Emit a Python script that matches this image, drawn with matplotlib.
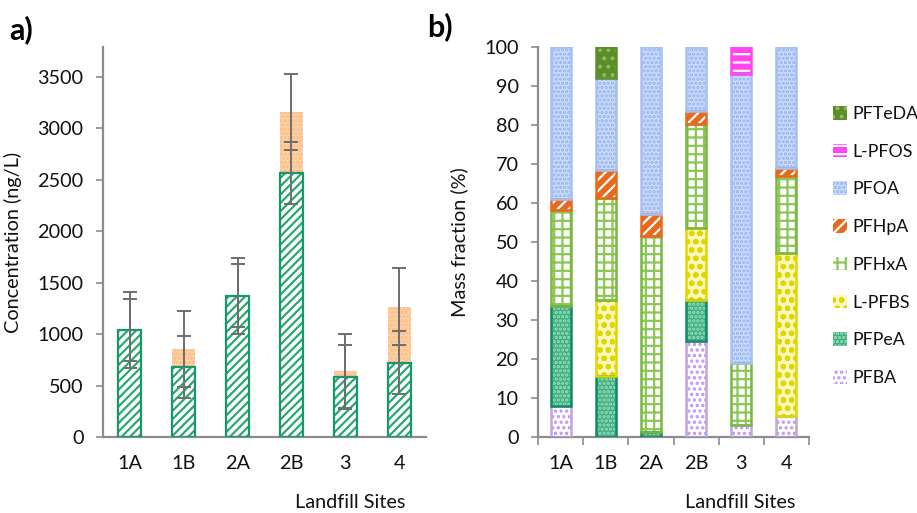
import matplotlib
matplotlib.use("Agg")
import matplotlib.pyplot as plt
from matplotlib.patches import Patch
import numpy as np

plt.rcParams['font.family'] = ['Lato', 'DejaVu Sans']
plt.rcParams['hatch.linewidth'] = 1.6

# ---------------- data ----------------
sites = ["1A", "1B", "2A", "2B", "3", "4"]

# panel a: concentration (ng/L)
conc_green = [1040, 680, 1374, 2566, 583, 723]
conc_orange = [0, 172, 0, 593, 55, 544]
err_green = [305, 305, 308, 305, 313, 307]
err_total = [370, 370, 370, 372, 360, 372]

# panel b: mass fraction (%)
compounds = ["PFBA", "PFPeA", "L-PFBS", "PFHxA", "PFHpA", "PFOA", "L-PFOS", "PFTeDA"]
PFBA = [7.9, 0.0, 0.0, 24.7, 3.2, 5.5]
PFPeA = [25.6, 15.6, 1.3, 10.5, 0.0, 0.0]
L_PFBS = [0.0, 19.6, 0.0, 18.4, 0.0, 41.7]
PFHxA = [24.8, 26.2, 50.3, 26.7, 15.9, 19.7]
PFHpA = [2.7, 7.0, 5.7, 3.2, 0.0, 2.2]
PFOA = [39.0, 23.7, 42.7, 16.5, 73.9, 30.9]
L_PFOS = [0.0, 0.0, 0.0, 0.0, 7.0, 0.0]
PFTeDA = [0.0, 7.9, 0.0, 0.0, 0.0, 0.0]
fractions = [PFBA, PFPeA, L_PFBS, PFHxA, PFHpA, PFOA, L_PFOS, PFTeDA]

# styles: (face, hatch, hatch colour, edge colour)
styles = {
    "PFBA":   ("#ffffff", "...", "#c293f2", "#bfa6dc"),
    "PFPeA":  ("#3fb07f", "....", "#9edcbd", "#0f8b63"),
    "L-PFBS": ("#fdf8c0", "oo", "#e2d600", "#e2d600"),
    "PFHxA":  ("#ffffff", "++", "#8cc653", "#78b83f"),
    "PFHpA":  ("#e8691c", "///", "#ffffff", "#e8691c"),
    "PFOA":   ("#cddcf9", "....", "#93b3f1", "#a4c0f4"),
    "L-PFOS": ("#ff45ee", "--", "#ffffff", "#ff45ee"),
    "PFTeDA": ("#5a8e27", "..", "#8fbb62", "#5a8e27"),
}

axis_col = "#8c8c8c"
text_col = "#111111"
fs = 14.3

fig = plt.figure(figsize=(9.17, 5.13), dpi=100)
axA = fig.add_axes([103/917, 1-437/513, 323/917, 390/513])
axB = fig.add_axes([538/917, 1-437/513, 271/917, 390/513])

x = np.arange(len(sites))

# ---------------- panel a ----------------
w = 0.43
axA.bar(x, conc_green, w, color="white", edgecolor="#2aa872", hatch="////", linewidth=0, zorder=2)
axA.bar(x, conc_green, w, fill=False, edgecolor="#17976a", linewidth=1.6, zorder=3)
axA.bar(x, conc_orange, w, bottom=conc_green, color="#fdd0a6", edgecolor="#fbbd88",
        hatch="....", linewidth=0, zorder=2)
total = np.array(conc_green) + np.array(conc_orange)
axA.errorbar(x, conc_green, yerr=err_green, fmt="none", ecolor="#6e6e6e", elinewidth=1.4,
             capsize=5, capthick=1.4, zorder=4)
axA.errorbar(x, total, yerr=err_total, fmt="none", ecolor="#6e6e6e", elinewidth=1.4,
             capsize=5, capthick=1.4, zorder=4)
axA.set_xlim(-0.5, 5.5)
axA.set_ylim(0, 3792)
axA.set_yticks(np.arange(0, 3501, 500))
axA.set_xticks(x)
axA.set_xticklabels(sites)
axA.tick_params(axis="x", length=0, pad=13, labelsize=fs, colors=text_col)
axA.tick_params(axis="y", length=5, width=1.2, color=axis_col, labelsize=fs, labelcolor=text_col, pad=9)
axA.set_ylabel("Concentration (ng/L)", fontsize=fs, color=text_col)
axA.yaxis.set_label_coords(-0.25, 0.5)

# ---------------- panel b ----------------
wb = 0.44
bottom = np.zeros(len(sites))
handles = []
for name, vals in zip(compounds, fractions):
    face, hatch, hcol, ecol = styles[name]
    axB.bar(x, vals, wb, bottom=bottom, color=face, edgecolor=hcol, hatch=hatch, linewidth=0, zorder=2)
    v = np.array(vals)
    mask = v > 0
    axB.bar(x[mask], v[mask], wb, bottom=bottom[mask], fill=False, edgecolor=ecol, linewidth=1.8, zorder=3)
    bottom = bottom + v
    handles.append(Patch(facecolor=face, edgecolor=hcol, hatch=hatch, linewidth=0, label=name))

axB.set_xlim(-0.5, 5.5)
axB.set_ylim(0, 100)
axB.set_yticks(np.arange(0, 101, 10))
axB.set_xticks(x)
axB.set_xticklabels(sites)
axB.set_xticks(np.arange(-0.5, 5.6, 1.0), minor=True)
axB.tick_params(axis="x", which="major", length=0, pad=13, labelsize=fs, colors=text_col)
axB.tick_params(axis="x", which="minor", length=6, width=1.2, color=axis_col)
axB.tick_params(axis="y", length=5, width=1.2, color=axis_col, labelsize=fs, labelcolor=text_col, pad=9)
axB.set_ylabel("Mass fraction (%)", fontsize=fs, color=text_col)
axB.yaxis.set_label_coords(-0.258, 0.5)

leg = axB.legend(handles=handles[::-1], loc="center left", bbox_to_anchor=(833/917, 1-246/513),
                 bbox_transform=fig.transFigure, frameon=False, fontsize=12.8,
                 handlelength=0.8, handleheight=0.8, handletextpad=0.3, labelspacing=1.22,
                 borderaxespad=0, borderpad=0)
for t in leg.get_texts():
    t.set_color(text_col)

for ax in (axA, axB):
    for s in ("top", "right"):
        ax.spines[s].set_visible(False)
    for s in ("left", "bottom"):
        ax.spines[s].set_color(axis_col)
        ax.spines[s].set_linewidth(1.6)

fig.text(350/917, 1-503/513, "Landfill Sites", ha="center", va="center", fontsize=fs, color=text_col)
fig.text(740/917, 1-503/513, "Landfill Sites", ha="center", va="center", fontsize=fs, color=text_col)
fig.text(9/917, 1-30/513, "a)", ha="left", va="center", fontsize=22, fontweight="bold", color="black")
fig.text(427/917, 1-27/513, "b)", ha="left", va="center", fontsize=22, fontweight="bold", color="black")

fig.savefig("out.png", dpi=100)
